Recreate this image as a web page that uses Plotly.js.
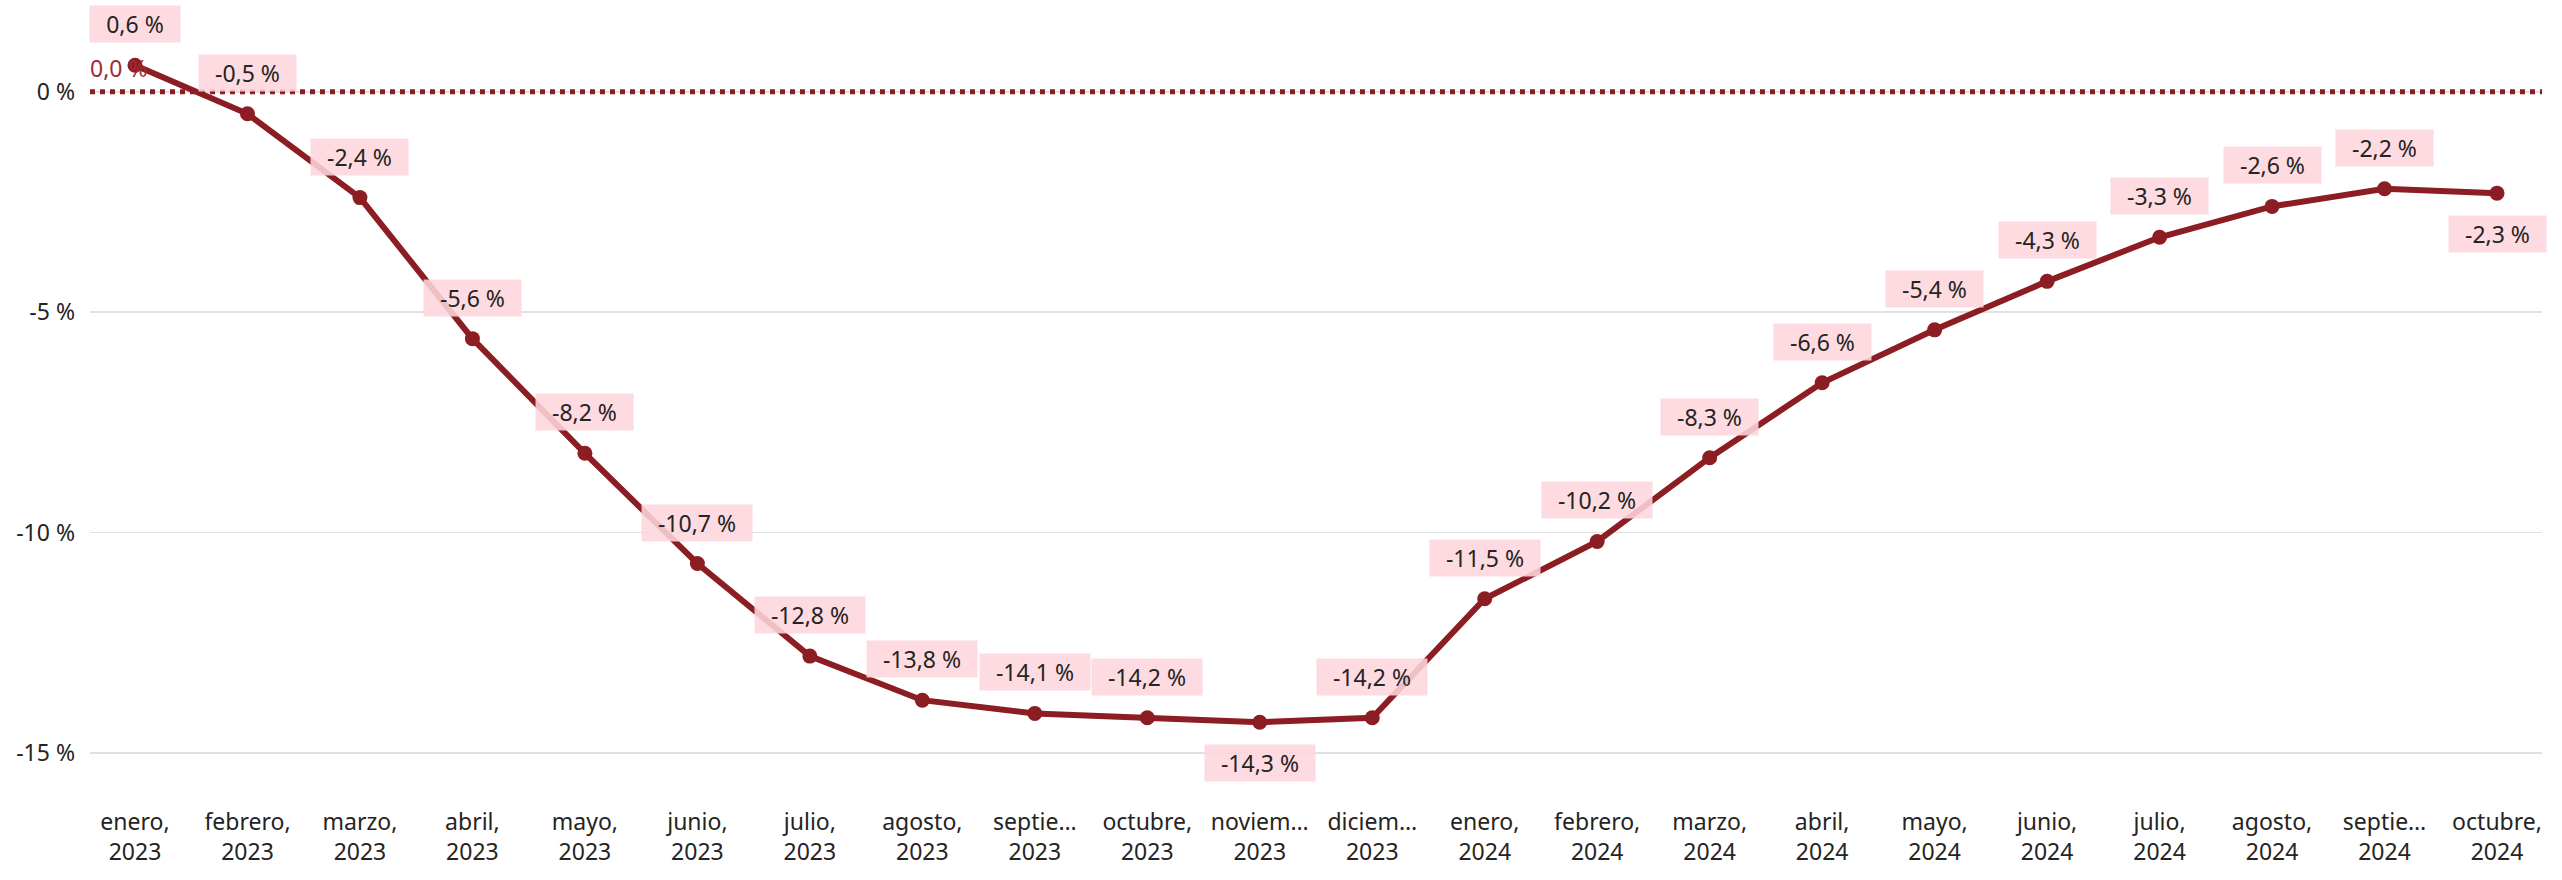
<!DOCTYPE html>
<html>
<head>
<meta charset="utf-8">
<script src="https://cdn.plot.ly/plotly-3.0.1.min.js"></script>
<style>
  html, body { margin: 0; padding: 0; background: #fff; }
  #chart { width: 2562px; height: 880px; }
</style>
</head>
<body>
<div id="chart"></div>
<script>
// ---- data ----
const categories = [
  "enero, 2023", "febrero, 2023", "marzo, 2023", "abril, 2023", "mayo, 2023", "junio, 2023",
  "julio, 2023", "agosto, 2023", "septiembre, 2023", "octubre, 2023", "noviembre, 2023", "diciembre, 2023",
  "enero, 2024", "febrero, 2024", "marzo, 2024", "abril, 2024", "mayo, 2024", "junio, 2024",
  "julio, 2024", "agosto, 2024", "septiembre, 2024", "octubre, 2024"
];
const tickLabels = [
  "enero,<br>2023", "febrero,<br>2023", "marzo,<br>2023", "abril,<br>2023", "mayo,<br>2023", "junio,<br>2023",
  "julio,<br>2023", "agosto,<br>2023", "septie…<br>2023", "octubre,<br>2023", "noviem…<br>2023", "diciem…<br>2023",
  "enero,<br>2024", "febrero,<br>2024", "marzo,<br>2024", "abril,<br>2024", "mayo,<br>2024", "junio,<br>2024",
  "julio,<br>2024", "agosto,<br>2024", "septie…<br>2024", "octubre,<br>2024"
];
const values = [0.6, -0.5, -2.4, -5.6, -8.2, -10.7, -12.8, -13.8, -14.1, -14.2, -14.3, -14.2,
                -11.5, -10.2, -8.3, -6.6, -5.4, -4.3, -3.3, -2.6, -2.2, -2.3];
const labelBelow = [false, false, false, false, false, false, false, false, false, false, true, false,
                    false, false, false, false, false, false, false, false, false, true];
const yTickVals = [0, -5, -10, -15];
const yTickText = ["0 %", "-5 %", "-10 %", "-15 %"];
const refValue = 0;
const refLabel = "0,0 %";

// ---- styling ----
const FONT = "'Segoe UI', 'Noto Sans', 'Open Sans', sans-serif";
const LINE = "#8C1D23";
const fmt = v => v.toFixed(1).replace(".", ",") + " %";

const cv = document.createElement("canvas").getContext("2d");
cv.font = "23px 'Noto Sans'";
const textW = s => cv.measureText(s).width;

const x = categories.map((_, i) => i);

const annotations = values.map((v, i) => {
  const t = fmt(v);
  return {
    x: i, y: v, xref: "x", yref: "y",
    text: t, showarrow: false,
    font: { family: FONT, size: 23, color: "#252423" },
    bgcolor: "rgba(253,214,221,0.88)",
    borderpad: 3,
    width: Math.round(textW(t) + 26),
    height: 30,
    yshift: labelBelow[i] ? -41 : 41,
    xanchor: "center", yanchor: "middle"
  };
});
annotations.push({
  xref: "paper", x: 0, yref: "y", y: refValue,
  text: refLabel, showarrow: false,
  font: { family: FONT, size: 23, color: "#9E2B30" },
  xanchor: "left", yanchor: "bottom", yshift: 6, xshift: -2
});

const trace = {
  type: "scatter", mode: "lines+markers",
  x: x, y: values,
  line: { color: LINE, width: 6 },
  marker: { color: LINE, size: 15 },
  hoverinfo: "skip",
  cliponaxis: false
};

const layout = {
  width: 2562, height: 880,
  margin: { l: 90, r: 20, t: 8, b: 74 },
  paper_bgcolor: "#fff", plot_bgcolor: "#fff",
  showlegend: false,
  font: { family: FONT, size: 23, color: "#252423" },
  xaxis: {
    range: [-0.4, 21.4],
    tickmode: "array", tickvals: x, ticktext: tickLabels,
    showgrid: false, zeroline: false, showline: false, ticks: "",
    tickfont: { family: FONT, size: 23, color: "#252423" },
    fixedrange: true
  },
  yaxis: {
    range: [-16.2, 1.9],
    tickmode: "array", tickvals: yTickVals, ticktext: yTickText,
    showgrid: true, gridcolor: "#E1E1E1", gridwidth: 1.5,
    zeroline: false, showline: false, ticks: "",
    ticklabelstandoff: 14,
    tickfont: { family: FONT, size: 23, color: "#252423" },
    fixedrange: true
  },
  shapes: [{
    type: "line", xref: "paper", x0: 0, x1: 1, yref: "y", y0: refValue, y1: refValue,
    line: { color: LINE, width: 5, dash: "5px,5px" },
    layer: "above"
  }],
  annotations: annotations
};

Plotly.newPlot("chart", [trace], layout, { displayModeBar: false, staticPlot: true });
</script>
</body>
</html>
